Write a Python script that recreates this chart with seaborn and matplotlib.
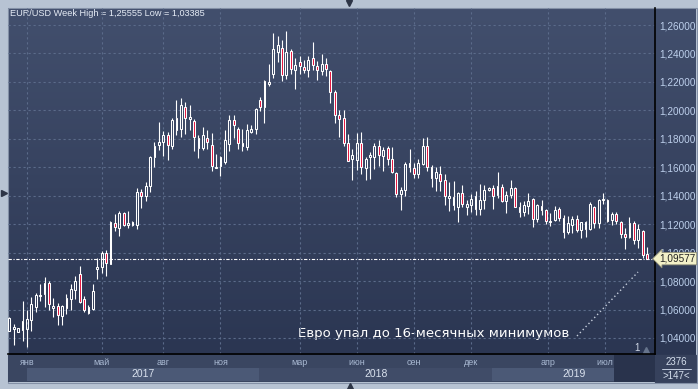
import numpy as np
import pandas as pd
import matplotlib
matplotlib.use("Agg")
import matplotlib.pyplot as plt
import matplotlib.transforms as mtransforms
from matplotlib.colors import LinearSegmentedColormap
from matplotlib.patches import Rectangle
import seaborn as sns

# weekly EUR/USD candles
opens = [1.0450, 1.0460, 1.0445, 1.0459, 1.0466, 1.0529, 1.0619, 1.0696, 1.0711, 1.0786,
         1.0612, 1.0624, 1.0555, 1.0612, 1.0675, 1.0739, 1.0847, 1.0671, 1.0577, 1.0607,
         1.0882, 1.0901, 1.1000, 1.0922, 1.1205, 1.1176, 1.1278, 1.1195, 1.1212, 1.1195,
         1.1428, 1.1395, 1.1466, 1.1671, 1.1758, 1.1781, 1.1824, 1.1753, 1.1948, 1.1871,
         1.2024, 1.1936, 1.1922, 1.1807, 1.1734, 1.1807, 1.1758, 1.1598, 1.1612, 1.1640,
         1.1765, 1.1934, 1.1871, 1.1772, 1.1741, 1.1847, 1.1871, 1.2071, 1.2024, 1.2185,
         1.2259, 1.2412, 1.2435, 1.2247, 1.2416, 1.2287, 1.2341, 1.2306, 1.2287, 1.2365,
         1.2313, 1.2278, 1.2329, 1.2278, 1.2129, 1.1965, 1.1948, 1.1769, 1.1659, 1.1652,
         1.1769, 1.1595, 1.1671, 1.1671, 1.1753, 1.1682, 1.1736, 1.1659, 1.1558, 1.1412,
         1.1440, 1.1628, 1.1595, 1.1553, 1.1624, 1.1753, 1.1605, 1.1525, 1.1553, 1.1511,
         1.1384, 1.1393, 1.1322, 1.1419, 1.1322, 1.1334, 1.1306, 1.1306, 1.1369, 1.1440,
         1.1454, 1.1405, 1.1464, 1.1360, 1.1407, 1.1454, 1.1318, 1.1289, 1.1329, 1.1376,
         1.1235, 1.1325, 1.1299, 1.1212, 1.1228, 1.1306, 1.1242, 1.1148, 1.1193, 1.1235,
         1.1158, 1.1212, 1.1165, 1.1322, 1.1205, 1.1369, 1.1372, 1.1228, 1.1275, 1.1216,
         1.1134, 1.1111, 1.1205, 1.1087, 1.1153, 1.0988]
highs = [1.0546, 1.0501, 1.0471, 1.0659, 1.0600, 1.0687, 1.0718, 1.0781, 1.0828, 1.0800,
         1.0678, 1.0647, 1.0635, 1.0706, 1.0781, 1.0835, 1.0906, 1.0694, 1.0631, 1.0781,
         1.0960, 1.1012, 1.1016, 1.1219, 1.1270, 1.1294, 1.1289, 1.1294, 1.1224, 1.1454,
         1.1447, 1.1494, 1.1682, 1.1781, 1.1918, 1.1854, 1.1847, 1.1948, 1.2071, 1.2089,
         1.2059, 1.2035, 1.1936, 1.1824, 1.1882, 1.1859, 1.1840, 1.1694, 1.1682, 1.1864,
         1.1965, 1.1965, 1.1882, 1.1866, 1.1901, 1.1894, 1.2016, 1.2094, 1.2216, 1.2325,
         1.2541, 1.2522, 1.2494, 1.2558, 1.2428, 1.2365, 1.2381, 1.2353, 1.2381, 1.2478,
         1.2346, 1.2395, 1.2365, 1.2282, 1.2141, 1.2000, 1.2000, 1.1835, 1.1729, 1.1840,
         1.1847, 1.1675, 1.1706, 1.1769, 1.1793, 1.1741, 1.1753, 1.1741, 1.1565, 1.1459,
         1.1635, 1.1729, 1.1628, 1.1659, 1.1805, 1.1816, 1.1619, 1.1600, 1.1612, 1.1553,
         1.1499, 1.1506, 1.1424, 1.1478, 1.1372, 1.1412, 1.1435, 1.1482, 1.1478, 1.1464,
         1.1478, 1.1565, 1.1482, 1.1435, 1.1511, 1.1464, 1.1353, 1.1360, 1.1416, 1.1384,
         1.1341, 1.1369, 1.1306, 1.1282, 1.1329, 1.1322, 1.1264, 1.1259, 1.1259, 1.1266,
         1.1212, 1.1219, 1.1353, 1.1329, 1.1376, 1.1416, 1.1376, 1.1289, 1.1289, 1.1224,
         1.1176, 1.1252, 1.1224, 1.1200, 1.1158, 1.1040]
lows = [1.0447, 1.0351, 1.0442, 1.0376, 1.0339, 1.0447, 1.0581, 1.0659, 1.0617, 1.0600,
        1.0546, 1.0489, 1.0489, 1.0569, 1.0600, 1.0671, 1.0647, 1.0581, 1.0569, 1.0600,
        1.0816, 1.0859, 1.0835, 1.0918, 1.1153, 1.1120, 1.1188, 1.1172, 1.1184, 1.1165,
        1.1313, 1.1365, 1.1428, 1.1605, 1.1718, 1.1682, 1.1654, 1.1729, 1.1824, 1.1812,
        1.1835, 1.1859, 1.1713, 1.1664, 1.1722, 1.1729, 1.1572, 1.1593, 1.1541, 1.1626,
        1.1711, 1.1805, 1.1729, 1.1713, 1.1718, 1.1842, 1.1835, 1.1993, 1.1911, 1.2169,
        1.2224, 1.2341, 1.2205, 1.2219, 1.2259, 1.2153, 1.2259, 1.2266, 1.2235, 1.2282,
        1.2216, 1.2252, 1.2242, 1.2052, 1.1911, 1.1816, 1.1753, 1.1642, 1.1511, 1.1581,
        1.1553, 1.1511, 1.1518, 1.1588, 1.1612, 1.1576, 1.1619, 1.1558, 1.1388, 1.1299,
        1.1400, 1.1565, 1.1525, 1.1525, 1.1619, 1.1576, 1.1459, 1.1435, 1.1435, 1.1334,
        1.1294, 1.1299, 1.1212, 1.1322, 1.1264, 1.1289, 1.1266, 1.1266, 1.1306, 1.1431,
        1.1306, 1.1381, 1.1353, 1.1282, 1.1381, 1.1318, 1.1247, 1.1259, 1.1271, 1.1181,
        1.1216, 1.1264, 1.1200, 1.1188, 1.1219, 1.1224, 1.1106, 1.1129, 1.1141, 1.1148,
        1.1106, 1.1111, 1.1158, 1.1176, 1.1176, 1.1341, 1.1212, 1.1193, 1.1200, 1.1101,
        1.1024, 1.1101, 1.1059, 1.1035, 1.0960, 1.0955]
closes = [1.0543, 1.0475, 1.0468, 1.0518, 1.0534, 1.0640, 1.0699, 1.0704, 1.0786, 1.0642,
          1.0628, 1.0565, 1.0624, 1.0678, 1.0741, 1.0800, 1.0654, 1.0595, 1.0617, 1.0729,
          1.0899, 1.1000, 1.0929, 1.1212, 1.1181, 1.1282, 1.1195, 1.1207, 1.1193, 1.1428,
          1.1395, 1.1470, 1.1671, 1.1753, 1.1776, 1.1824, 1.1758, 1.1934, 1.1864, 1.2035,
          1.1946, 1.1953, 1.1812, 1.1734, 1.1824, 1.1776, 1.1607, 1.1605, 1.1671, 1.1793,
          1.1934, 1.1899, 1.1772, 1.1748, 1.1864, 1.1871, 1.2007, 1.2024, 1.2205, 1.2202,
          1.2431, 1.2459, 1.2252, 1.2412, 1.2294, 1.2322, 1.2313, 1.2287, 1.2353, 1.2322,
          1.2282, 1.2325, 1.2289, 1.2129, 1.1965, 1.1941, 1.1769, 1.1642, 1.1687, 1.1769,
          1.1605, 1.1659, 1.1687, 1.1746, 1.1687, 1.1722, 1.1659, 1.1569, 1.1412, 1.1440,
          1.1624, 1.1605, 1.1553, 1.1628, 1.1753, 1.1600, 1.1525, 1.1565, 1.1506, 1.1400,
          1.1400, 1.1334, 1.1416, 1.1341, 1.1341, 1.1376, 1.1400, 1.1372, 1.1440, 1.1454,
          1.1400, 1.1471, 1.1360, 1.1407, 1.1454, 1.1318, 1.1289, 1.1336, 1.1360, 1.1235,
          1.1336, 1.1299, 1.1219, 1.1224, 1.1299, 1.1242, 1.1148, 1.1205, 1.1235, 1.1158,
          1.1212, 1.1165, 1.1341, 1.1205, 1.1372, 1.1376, 1.1219, 1.1275, 1.1224, 1.1129,
          1.1111, 1.1205, 1.1087, 1.1165, 1.0984, 1.09577]

price_ticks = [1.04, 1.06, 1.08, 1.10, 1.12, 1.14, 1.16, 1.18, 1.20, 1.22, 1.24, 1.26]
month_labels = ["янв", "май", "авг", "ноя", "мар", "июн", "сен", "дек", "апр", "июл"]
month_idx = [4, 21, 35, 48, 66, 79, 92, 105, 122.5, 135.5]
year_labels = ["2017", "2018", "2019"]
year_start = [4, 56.8, 109.8]
year_end = [56.8, 109.8, 146.8]

title = "EUR/USD Week High = 1,25555 Low = 1,03385"
note = "Евро упал до 16-месячных минимумов"

sns.set_style("dark")
plt.rcParams["font.family"] = ["Liberation Sans", "DejaVu Sans"]

df = pd.DataFrame({"open": opens, "high": highs, "low": lows, "close": closes})
df["idx"] = np.arange(len(df))
df["top"] = df[["open", "close"]].max(axis=1)
df["bot"] = df[["open", "close"]].min(axis=1)
df["up"] = df["close"] >= df["open"]
last = df["close"].iloc[-1]

W, H = 698, 389
fig = plt.figure(figsize=(W / 100, H / 100), dpi=100, facecolor="#b7c3d3")

# background / frame in pixel coordinates
bg = fig.add_axes([0, 0, 1, 1], zorder=0)
bg.set_xlim(0, W)
bg.set_ylim(H, 0)
bg.axis("off")
grad = LinearSegmentedColormap.from_list("g", ["#424f6d", "#2b3652"])
bg.imshow(np.linspace(0, 1, 256)[:, None], extent=(8, 696, 355, 8), cmap=grad,
          aspect="auto", zorder=0)
bg.add_patch(Rectangle((655, 355), 41, 27, color="#36415c", zorder=1))
bg.add_patch(Rectangle((7.5, 7.5), 689, 375, fill=False, ec="#8390a6", lw=0.8, zorder=2))
bg.plot([349], [3], marker="v", color="#2d3546", ms=5)
bg.plot([3.5], [193], marker=">", color="#2d3546", ms=5)
bg.plot([350], [386], marker="^", color="#2d3546", ms=5)
bg.text(10, 13, title, fontsize=6.6, color="#e6ecf6", va="center", ha="left")
bg.text(676, 362, "2376", fontsize=7, color="#d4deec", ha="center", va="center")
bg.plot([662, 691], [368.5, 368.5], color="#c4cee0", lw=0.7)
bg.text(676, 376, ">147<", fontsize=7, color="#d4deec", ha="center", va="center")
bg.plot([577, 638], [336, 272], color="#c6cedc", lw=1, ls=(0, (1, 2)))
bg.text(298, 333, note, fontsize=9.5, color="white", ha="left", va="center",
        family=["Liberation Sans Narrow", "DejaVu Sans Condensed", "DejaVu Sans"])
bg.text(637, 348, "1", fontsize=7, color="#d0d8e6", ha="center", va="center")
bg.plot([646], [350], marker="^", color="#66748c", ms=4)

# main price panel
ax = fig.add_axes([8 / W, 1 - 354 / H, 647 / W, 346 / H], zorder=1)
ax.set_facecolor("none")
ax.set_xlim(-0.3, 146.8)
ax.set_ylim(1.02875, 1.27195)

ax.vlines(df["idx"], df["top"], df["high"], color="white", lw=0.8, zorder=3)
ax.vlines(df["idx"], df["low"], df["bot"], color="white", lw=0.8, zorder=3)
body = (df["top"] - df["bot"]).clip(lower=0.0004)
face = np.where(df["up"], "none", "#e3123c")
ax.bar(df["idx"], body, bottom=df["bot"], width=0.42, facecolor=face,
       edgecolor="white", linewidth=0.75, zorder=4)

ax.axhline(last, color="white", lw=0.8, ls=(0, (3, 1.5, 1, 1.5)), zorder=5)

ax.set_yticks(price_ticks)
ax.set_yticklabels([f"{v:.5f}".replace(".", ",") for v in price_ticks])
ax.yaxis.tick_right()
ax.tick_params(axis="y", length=0, pad=3, labelsize=7.2, labelcolor="#bdd0ec")
ax.set_xticks(month_idx)
ax.tick_params(axis="x", length=0, labelbottom=False)
ax.grid(True, color="#5b6b8a", lw=0.8, ls=(0, (2, 2.5)))
for s in ["left", "top"]:
    ax.spines[s].set_visible(False)
for s in ["right", "bottom"]:
    ax.spines[s].set_color("black")
    ax.spines[s].set_linewidth(1.2)

trans = mtransforms.blended_transform_factory(ax.transAxes, ax.transData)
ax.text(1.0065, last, f"{last:.5f}".replace(".", ","), transform=trans, fontsize=7.2,
        color="#222222", va="center", ha="left", clip_on=False, zorder=10,
        bbox=dict(boxstyle="larrow,pad=0.12", fc="#f3f1c8", ec="#8f8f78", lw=0.6))

# time axis panel
axb = fig.add_axes([8 / W, 1 - 382 / H, 647 / W, 27 / H], zorder=1)
axb.set_facecolor("#3a4661")
axb.set_xlim(ax.get_xlim())
axb.set_ylim(0, 1)
axb.set_xticks([])
axb.set_yticks([])
for s in axb.spines.values():
    s.set_visible(False)
band_colors = ["#4b5976", "#404c68", "#4b5976"]
for lab, x0, x1, c in zip(year_labels, year_start, year_end, band_colors):
    axb.axvspan(x0, x1, ymin=0.04, ymax=0.52, color=c, lw=0)
    axb.text((x0 + x1) / 2, 0.28, lab, fontsize=7.5, color="#dae2ee",
             ha="center", va="center")
axb.axvspan(137.5, 146.8, color="#29334c", lw=0)
for lab, x in zip(month_labels, month_idx):
    axb.text(x, 0.72, lab, fontsize=6.5, color="#a9b9d2", ha="center", va="center")

fig.savefig("out.png", dpi=100, facecolor=fig.get_facecolor())
